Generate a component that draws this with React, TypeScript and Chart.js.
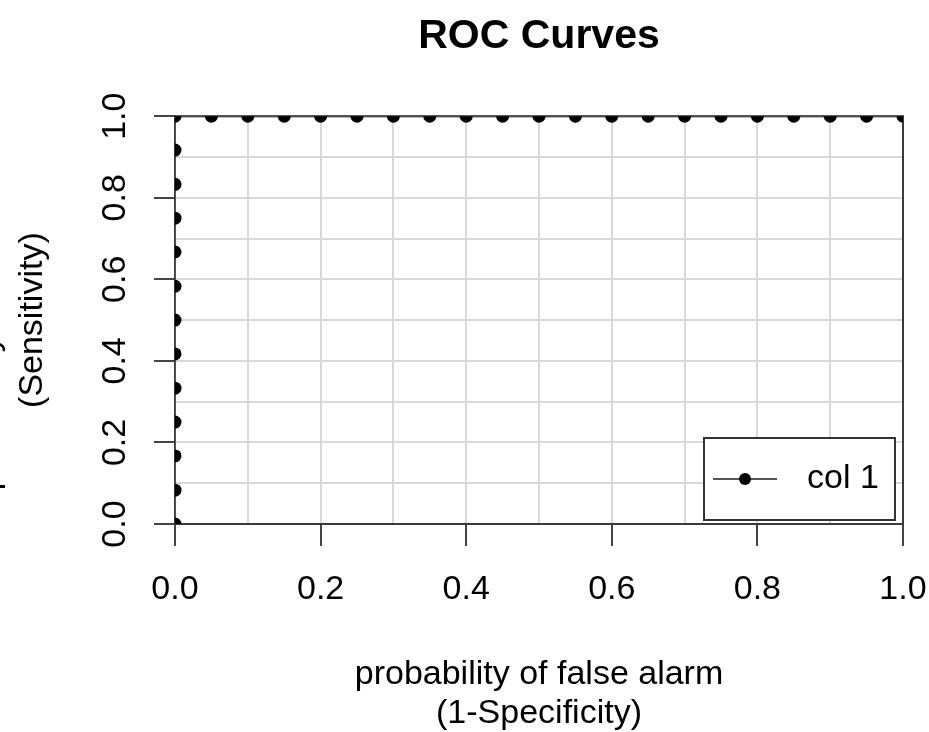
import React, { useEffect, useRef } from 'react';
import { Chart, registerables } from 'chart.js';

Chart.register(...registerables);

// ---- data ----
const FPR = [
  0, 0, 0, 0, 0, 0, 0, 0, 0, 0, 0, 0, 0,
  0.05, 0.1, 0.15, 0.2, 0.25, 0.3, 0.35, 0.4, 0.45, 0.5,
  0.55, 0.6, 0.65, 0.7, 0.75, 0.8, 0.85, 0.9, 0.95, 1.0,
];
const TPR = [
  0, 0.083, 0.167, 0.25, 0.333, 0.417, 0.5, 0.583, 0.667, 0.75, 0.833, 0.917, 1,
  1, 1, 1, 1, 1, 1, 1, 1, 1, 1,
  1, 1, 1, 1, 1, 1, 1, 1, 1, 1,
];
const SERIES_NAME = 'col 1';
const TITLE = 'ROC Curves';
const X_LABEL = ['probability of false alarm', '(1-Specificity)'];
const Y_LABEL = ['probability of detection', '(Sensitivity)'];
const AXIS_MIN = 0;
const AXIS_MAX = 1;
const GRID_STEP = 0.1;

const FONT = '"Liberation Sans", Arial, Helvetica, sans-serif';

const decorPlugin = {
  id: 'rocDecor',
  beforeDatasetsDraw(chart: any) {
    const { ctx, chartArea: a } = chart;
    ctx.save();
    ctx.strokeStyle = '#3a3a3a';
    ctx.lineWidth = 2;
    ctx.strokeRect(a.left, a.top, a.right - a.left, a.bottom - a.top);
    ctx.restore();
  },
  afterDraw(chart: any) {
    const { ctx, chartArea: a, scales } = chart;
    const y = scales.y;
    ctx.save();
    // rotated y tick labels
    ctx.font = `34px ${FONT}`;
    ctx.fillStyle = '#000';
    ctx.textAlign = 'center';
    ctx.textBaseline = 'alphabetic';
    y.ticks.forEach((t: any, i: number) => {
      if (i % 2 !== 0) return;
      const py = y.getPixelForValue(t.value);
      ctx.save();
      ctx.translate(a.left - 50, py);
      ctx.rotate(-Math.PI / 2);
      ctx.fillText(Number(t.value).toFixed(1), 0, 0);
      ctx.restore();
    });
    // legend (bottom right inset)
    const w = 191;
    const h = 82;
    const left = a.right - 8 - w;
    const top = a.bottom - 4 - h;
    const cy = top + h / 2;
    ctx.fillStyle = '#fff';
    ctx.fillRect(left, top, w, h);
    ctx.strokeStyle = '#333';
    ctx.lineWidth = 2;
    ctx.strokeRect(left, top, w, h);
    ctx.strokeStyle = '#555';
    ctx.lineWidth = 2;
    ctx.beginPath();
    ctx.moveTo(left + 9, cy);
    ctx.lineTo(left + 73, cy);
    ctx.stroke();
    ctx.fillStyle = '#000';
    ctx.beginPath();
    ctx.arc(left + 41, cy, 6, 0, Math.PI * 2);
    ctx.fill();
    ctx.font = `34px ${FONT}`;
    ctx.textAlign = 'left';
    ctx.textBaseline = 'middle';
    ctx.fillText(SERIES_NAME, left + 103, cy);
    ctx.restore();
  },
};

export default function App() {
  const ref = useRef<HTMLCanvasElement | null>(null);

  useEffect(() => {
    if (!ref.current) return;
    Chart.defaults.font.family = FONT;
    const data = FPR.map((x, i) => ({ x, y: TPR[i] }));
    const chart = new Chart(ref.current, {
      type: 'scatter',
      data: {
        datasets: [
          {
            label: SERIES_NAME,
            data,
            showLine: true,
            borderColor: '#555',
            borderWidth: 2,
            pointRadius: 6.5,
            pointBackgroundColor: '#000',
            pointBorderWidth: 0,
            pointBorderColor: '#000',
            clip: 0,
          } as any,
        ],
      },
      options: {
        responsive: false,
        animation: false,
        layout: { padding: { left: 0, right: 26, top: 0, bottom: 0 } },
        plugins: {
          legend: { display: false },
          tooltip: { enabled: false },
          title: {
            display: true,
            text: TITLE,
            fullSize: false,
            color: '#000',
            font: { size: 41, weight: 'bold', family: FONT, lineHeight: 1.2 },
            padding: { top: 12, bottom: 55 },
          },
        },
        scales: {
          x: {
            type: 'linear',
            min: AXIS_MIN,
            max: AXIS_MAX,
            afterFit: (s: any) => {
              s.height = 208;
              s.paddingLeft = 0;
              s.paddingRight = 0;
            },
            ticks: {
              stepSize: GRID_STEP,
              autoSkip: false,
              maxRotation: 0,
              minRotation: 0,
              padding: 23,
              color: '#000',
              font: { size: 34, family: FONT },
              callback: (v: any, i: number) => (i % 2 === 0 ? Number(v).toFixed(1) : ''),
            },
            grid: {
              color: '#d9d9d9',
              lineWidth: 2,
              tickLength: 22,
              tickWidth: 2,
              tickColor: (c: any) => (c.index % 2 === 0 ? '#444' : 'rgba(0,0,0,0)'),
            },
            border: { color: '#3a3a3a', width: 2 },
            title: {
              display: true,
              text: X_LABEL,
              color: '#000',
              font: { size: 34, family: FONT, lineHeight: 39 / 34 },
              padding: { top: 0, bottom: -1 },
            },
          },
          y: {
            type: 'linear',
            min: AXIS_MIN,
            max: AXIS_MAX,
            afterFit: (s: any) => {
              s.width = 175;
              s.paddingTop = 0;
              s.paddingBottom = 0;
            },
            ticks: {
              stepSize: GRID_STEP,
              autoSkip: false,
              padding: 0,
              font: { size: 34, family: FONT },
              callback: () => '',
            },
            grid: {
              color: '#d9d9d9',
              lineWidth: 2,
              tickLength: 21,
              tickWidth: 2,
              tickColor: (c: any) => (c.index % 2 === 0 ? '#444' : 'rgba(0,0,0,0)'),
            },
            border: { color: '#3a3a3a', width: 2 },
            title: {
              display: true,
              text: Y_LABEL,
              color: '#000',
              font: { size: 34, family: FONT, lineHeight: 44 / 34 },
              padding: { top: -33, bottom: 0 },
            },
          },
        },
      },
      plugins: [decorPlugin],
    });
    return () => chart.destroy();
  }, []);

  return (
    <div style={{ position: 'fixed', left: 0, top: 0, width: 929, height: 732, background: '#fff' }}>
      <canvas ref={ref} width={929} height={732} style={{ display: 'block' }} />
    </div>
  );
}
